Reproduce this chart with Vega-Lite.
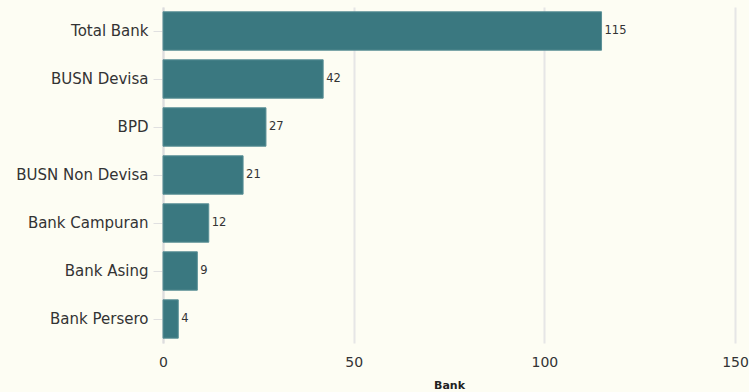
{
  "$schema": "https://vega.github.io/schema/vega-lite/v6.json",
  "width": 572,
  "height": 336,
  "autosize": {"type": "none"},
  "padding": {"left": 163, "top": 7, "right": 14, "bottom": 49},
  "background": "#fdfdf3",
  "config": {
    "view": {"stroke": null},
    "font": "DejaVu Sans"
  },
  "data": {
    "values": [
      {"jenis": "Total Bank", "jumlah": 115},
      {"jenis": "BUSN Devisa", "jumlah": 42},
      {"jenis": "BPD", "jumlah": 27},
      {"jenis": "BUSN Non Devisa", "jumlah": 21},
      {"jenis": "Bank Campuran", "jumlah": 12},
      {"jenis": "Bank Asing", "jumlah": 9},
      {"jenis": "Bank Persero", "jumlah": 4}
    ]
  },
  "encoding": {
    "y": {
      "field": "jenis",
      "type": "nominal",
      "sort": null,
      "title": null,
      "scale": {"paddingInner": 0.2, "paddingOuter": 0.1},
      "axis": {
        "labelFontSize": 15,
        "labelColor": "#333333",
        "labelPadding": 5,
        "labelLimit": 200,
        "tickSize": 10,
        "tickColor": "#e0e0e0",
        "domainColor": "#dddddd",
        "domainWidth": 2,
        "grid": false
      }
    },
    "x": {
      "field": "jumlah",
      "type": "quantitative",
      "title": "Bank",
      "scale": {"domain": [0, 150]},
      "axis": {
        "values": [0, 50, 100, 150],
        "labelFontSize": 14,
        "labelColor": "#333333",
        "labelPadding": 12,
        "labelFlush": false,
        "labelBound": false,
        "ticks": false,
        "domain": false,
        "gridColor": "#e6e6e6",
        "gridWidth": 2,
        "titleFontSize": 11,
        "titleFontWeight": "bold",
        "titleColor": "#222222",
        "titlePadding": 10
      }
    }
  },
  "layer": [
    {
      "mark": {"type": "bar", "color": "#3a7880", "stroke": "#5a9096", "strokeWidth": 1}
    },
    {
      "mark": {"type": "text", "align": "left", "dx": 3, "fontSize": 11.5, "color": "#333333"},
      "encoding": {"text": {"field": "jumlah", "type": "quantitative"}}
    }
  ]
}
